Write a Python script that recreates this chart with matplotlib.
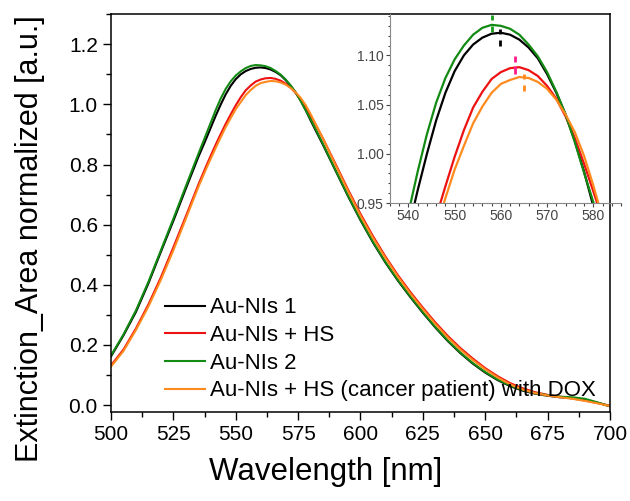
import matplotlib
matplotlib.use('Agg')
import matplotlib.pyplot as plt
from matplotlib.ticker import MultipleLocator

plt.rcParams['font.family'] = ['Liberation Sans', 'DejaVu Sans']

# wavelength grid (nm) and normalized extinction
wl = [500, 505, 510, 515, 520, 525, 530, 535, 538, 540, 542, 544, 546, 548,
      550, 552, 554, 556, 558, 560, 562, 564, 566, 568, 570, 572, 574, 576,
      578, 580, 582, 585, 590, 595, 600, 605, 610, 615, 620, 625, 630, 635,
      640, 645, 650, 655, 660, 665, 670, 675, 680, 685, 690, 695, 700]

au1 = [0.162, 0.232, 0.310, 0.405, 0.510, 0.613, 0.720, 0.825, 0.883, 0.923,
       0.963, 1.000, 1.034, 1.062, 1.084, 1.100, 1.111, 1.118, 1.122, 1.123,
       1.121, 1.116, 1.108, 1.097, 1.081, 1.062, 1.040, 1.013, 0.982, 0.947,
       0.914, 0.865, 0.780, 0.695, 0.615, 0.541, 0.474, 0.414, 0.359, 0.307,
       0.258, 0.213, 0.173, 0.138, 0.108, 0.083, 0.063, 0.048, 0.038, 0.031,
       0.026, 0.023, 0.018, 0.008, -0.004]

au_hs = [0.132, 0.185, 0.255, 0.335, 0.425, 0.525, 0.628, 0.733, 0.792, 0.830,
         0.867, 0.902, 0.936, 0.967, 0.997, 1.024, 1.047, 1.063, 1.076, 1.083,
         1.087, 1.088, 1.085, 1.079, 1.069, 1.056, 1.038, 1.016, 0.990, 0.962,
         0.933, 0.886, 0.802, 0.717, 0.636, 0.562, 0.494, 0.432, 0.376, 0.324,
         0.275, 0.230, 0.190, 0.155, 0.123, 0.096, 0.073, 0.056, 0.043, 0.034,
         0.028, 0.022, 0.015, 0.007, -0.002]

au2 = [0.165, 0.235, 0.315, 0.410, 0.515, 0.620, 0.728, 0.835, 0.898, 0.940,
       0.982, 1.020, 1.052, 1.077, 1.096, 1.110, 1.121, 1.128, 1.131, 1.130,
       1.127, 1.121, 1.111, 1.099, 1.083, 1.063, 1.040, 1.012, 0.981, 0.951,
       0.918, 0.868, 0.782, 0.697, 0.617, 0.543, 0.476, 0.416, 0.361, 0.309,
       0.260, 0.215, 0.175, 0.140, 0.110, 0.085, 0.065, 0.050, 0.040, 0.033,
       0.028, 0.026, 0.021, 0.009, -0.004]

au_hs_dox = [0.128, 0.180, 0.250, 0.328, 0.417, 0.515, 0.620, 0.725, 0.783, 0.820,
             0.856, 0.891, 0.925, 0.955, 0.984, 1.008, 1.031, 1.048, 1.062, 1.071,
             1.075, 1.078, 1.077, 1.073, 1.066, 1.055, 1.040, 1.022, 0.998, 0.968,
             0.935, 0.886, 0.798, 0.712, 0.630, 0.556, 0.489, 0.427, 0.371, 0.319,
             0.270, 0.225, 0.185, 0.150, 0.119, 0.092, 0.069, 0.052, 0.040, 0.032,
             0.026, 0.021, 0.014, 0.006, -0.003]

labels = ['Au-NIs 1', 'Au-NIs + HS', 'Au-NIs 2',
          'Au-NIs + HS (cancer patient) with DOX']
colors = ['#000000', '#ee1111', '#138a13', '#ff8a1e']
series = [au1, au_hs, au2, au_hs_dox]

# peak markers in the inset: x and (y_low, y_high) of the two short dashes
mark_x = [559.8, 563.1, 558.0, 565.1]
mark_upper = [(1.122, 1.127), (1.093, 1.0995), (1.136, 1.141), (1.0755, 1.0815)]
mark_lower = [(1.110, 1.116), (1.081, 1.089), (1.124, 1.130), (1.064, 1.070)]
mark_colors = ['#000000', '#ff1a8c', '#1a9a1a', '#ff8a1e']

fig = plt.figure(figsize=(6.30, 5.01), dpi=100)
ax = fig.add_axes([0.1762, 0.1776, 0.792, 0.794])

for y, c, lab in zip(series, colors, labels):
    ax.plot(wl, y, color=c, lw=1.5, label=lab)

ax.set_xlim(500, 700)
ax.set_ylim(-0.023, 1.30)
ax.xaxis.set_major_locator(MultipleLocator(25))
ax.xaxis.set_minor_locator(MultipleLocator(12.5))
ax.yaxis.set_major_locator(MultipleLocator(0.2))
ax.yaxis.set_minor_locator(MultipleLocator(0.1))
ax.yaxis.set_major_formatter(plt.FormatStrFormatter('%.1f'))
ax.tick_params(which='both', direction='out', labelsize=15, width=1)
ax.tick_params(which='major', length=6)
ax.tick_params(which='minor', length=3.5)
for s in ax.spines.values():
    s.set_linewidth(1.1)
ax.set_xlabel('Wavelength [nm]', fontsize=22.5)
ax.xaxis.set_label_coords(0.431, -0.112)
ax.set_ylabel('Extinction_Area normalized [a.u.]', fontsize=22)
ax.yaxis.set_label_coords(-0.132, 0.437)
ax.legend(loc='lower left', bbox_to_anchor=(0.108, 0.027), frameon=False,
          fontsize=16, handlelength=1.8, handletextpad=0.22,
          labelspacing=0.3, borderpad=0, borderaxespad=0)

# inset zoom on the maxima (its top/right edges sit on the main frame)
axi = fig.add_axes([0.619, 0.5948, 0.3667, 0.3772])
axi.patch.set_alpha(0)
for y, c in zip(series, colors):
    axi.plot(wl, y, color=c, lw=1.6)
for x, up, lo, c in zip(mark_x, mark_upper, mark_lower, mark_colors):
    axi.vlines([x, x], [up[0], lo[0]], [up[1], lo[1]], color=c, lw=2)
axi.set_xlim(536.0, 586.0)
axi.set_ylim(0.95, 1.142)
axi.xaxis.set_major_locator(MultipleLocator(10))
axi.xaxis.set_minor_locator(MultipleLocator(2))
axi.yaxis.set_major_locator(MultipleLocator(0.05))
axi.yaxis.set_minor_locator(MultipleLocator(0.01))
axi.yaxis.set_major_formatter(plt.FormatStrFormatter('%.2f'))
axi.tick_params(which='both', direction='out', labelsize=10,
                colors='#444444', width=0.8, pad=1.5)
axi.tick_params(which='major', length=3)
axi.tick_params(which='minor', length=1.8)
axi.spines['left'].set_color('#888888')
axi.spines['bottom'].set_color('#888888')
axi.spines['top'].set_visible(False)
axi.spines['right'].set_visible(False)

fig.savefig('out.png', dpi=100)
